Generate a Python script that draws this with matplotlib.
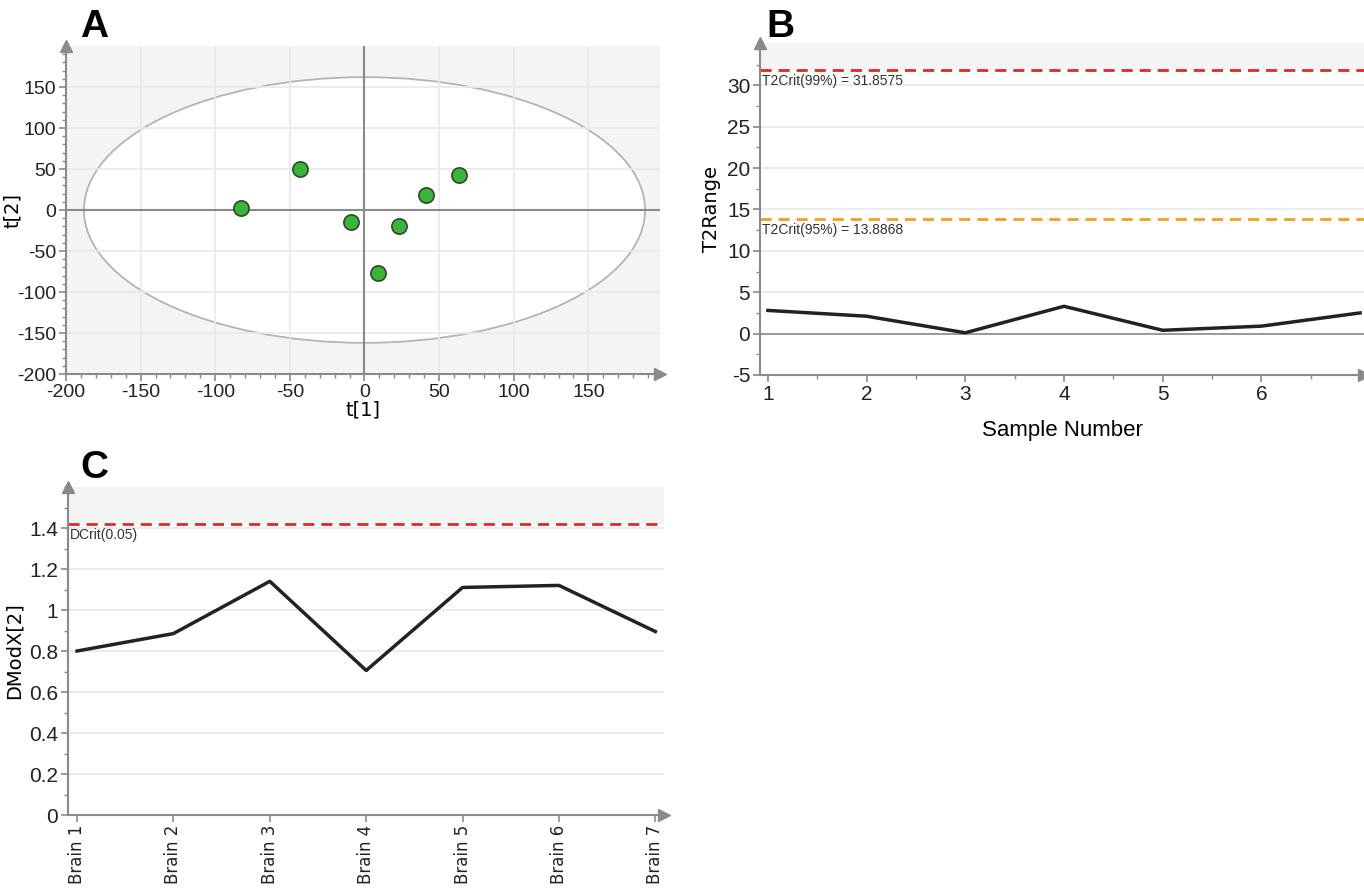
import matplotlib.pyplot as plt
import matplotlib.patches as patches
from matplotlib.ticker import MultipleLocator
import numpy as np

# A: score plot t[1] / t[2]
t1 = [-83, -43, -9, 9, 23, 41, 63]
t2 = [3, 50, -15, -77, -19, 18, 43]
ellipse_w, ellipse_h = 376, 324

# B: Hotelling T2 range
sample_no = [1, 2, 3, 4, 5, 6, 7]
t2range = [2.8, 2.1, 0.1, 3.3, 0.4, 0.9, 2.5]
t2crit99 = 31.8575
t2crit95 = 13.8868

# C: DModX
brains = ['Brain 1', 'Brain 2', 'Brain 3', 'Brain 4', 'Brain 5', 'Brain 6', 'Brain 7']
dmodx = [0.80, 0.885, 1.14, 0.705, 1.11, 1.12, 0.895]
dcrit = 1.42

plt.rcParams['font.family'] = ['Liberation Sans', 'DejaVu Sans']
plt.rcParams['axes.unicode_minus'] = False

W, H = 1364, 896
fig = plt.figure(figsize=(W / 100, H / 100), dpi=100)


def px(l, t, r, b):
    return [l / W, 1 - b / H, (r - l) / W, (b - t) / H]


AX = '#8a8a8a'
GRID = '#e9e9e9'
SHADE = '#f4f4f4'


def style(ax, size=15):
    for s in ['top', 'right']:
        ax.spines[s].set_visible(False)
    for s in ['left', 'bottom']:
        ax.spines[s].set_color(AX)
        ax.spines[s].set_linewidth(1.5)
    ax.tick_params(which='major', length=5, width=1.2, color=AX,
                   labelsize=size, labelcolor='#222222', pad=2)
    ax.tick_params(which='minor', length=3, width=1, color=AX)
    # arrow heads on the axes
    ax.plot(0, 1.0, marker='^', ms=8, color=AX, transform=ax.transAxes, clip_on=False, zorder=5)
    ax.plot(1.0, 0, marker='>', ms=8, color=AX, transform=ax.transAxes, clip_on=False, zorder=5)


# ---------------- A ----------------
axA = fig.add_axes(px(66, 46, 660, 374))
axA.set_facecolor(SHADE)
axA.set_xlim(-200, 198)
axA.set_ylim(-200, 200)
axA.set_xticks(np.arange(-200, 151, 50))
axA.set_yticks(np.arange(-200, 151, 50))
axA.xaxis.set_minor_locator(MultipleLocator(10))
axA.yaxis.set_minor_locator(MultipleLocator(10))
axA.grid(True, which='major', color=GRID, lw=1.2)
axA.set_axisbelow(True)
ell = patches.Ellipse((0, 0), ellipse_w, ellipse_h, facecolor='white',
                      edgecolor='#b4b4b4', lw=1.3, zorder=0.2)
axA.add_patch(ell)
axA.axhline(0, color='#8a8a8a', lw=1.5, zorder=1)
axA.axvline(0, color='#8a8a8a', lw=1.5, zorder=1)
axA.scatter(t1, t2, s=120, color='#3cb43c', edgecolor='#2a4a2a', lw=1.2, zorder=3)
style(axA, 14)
axA.set_xlabel('t[1]', family='DejaVu Sans', fontsize=14, labelpad=0)
axA.set_ylabel('t[2]', family='DejaVu Sans', fontsize=14)
axA.yaxis.set_label_coords(-44 / 594, 0.5)
fig.text(80 / W, 1 - 27 / H, 'A', fontsize=28, weight='bold', va='center')

# ---------------- B ----------------
axB = fig.add_axes(px(760, 43, 1364, 375))
axB.set_xlim(0.92, 7.04)
axB.set_ylim(-5, 35.1)
axB.set_xticks([1, 2, 3, 4, 5, 6])
axB.set_yticks(np.arange(-5, 31, 5))
axB.xaxis.set_minor_locator(MultipleLocator(0.5))
axB.yaxis.set_minor_locator(MultipleLocator(2.5))
axB.grid(True, axis='y', color=GRID, lw=1.2)
axB.set_axisbelow(True)
axB.axhspan(t2crit99, 40, color=SHADE, zorder=0.1, lw=0)
axB.axhline(0, color='#8a8a8a', lw=1.2, zorder=1)
axB.axhline(t2crit99, color='#e5262b', lw=2, ls=(0, (4, 2.5)), zorder=2)
axB.axhline(t2crit95, color='#f0a020', lw=2, ls=(0, (4, 2.5)), zorder=2)
axB.text(0.94, t2crit99 - 0.5, 'T2Crit(99%) = 31.8575', fontsize=10, color='#333333',
         va='top', ha='left')
axB.text(0.94, t2crit95 - 0.5, 'T2Crit(95%) = 13.8868', fontsize=10, color='#333333',
         va='top', ha='left')
axB.plot(sample_no, t2range, color='#222222', lw=2.5, zorder=3)
style(axB)
axB.set_xlabel('Sample Number', fontsize=16, labelpad=12)
axB.set_ylabel('T2Range', family='DejaVu Sans', fontsize=14, labelpad=4)
fig.text(766 / W, 1 - 27 / H, 'B', fontsize=28, weight='bold', va='center')

# ---------------- C ----------------
axC = fig.add_axes(px(68, 487, 664, 815))
axC.set_xlim(0.906, 7.09)
axC.set_ylim(0, 1.6)
axC.set_xticks(range(1, 8))
axC.set_yticks(np.arange(0, 1.41, 0.2))
axC.set_yticklabels(['0', '0.2', '0.4', '0.6', '0.8', '1', '1.2', '1.4'])
axC.yaxis.set_minor_locator(MultipleLocator(0.1))
axC.grid(True, axis='y', color=GRID, lw=1.2)
axC.set_axisbelow(True)
axC.axhspan(dcrit, 2, color=SHADE, zorder=0.1, lw=0)
axC.axhline(dcrit, color='#e5262b', lw=2, ls=(0, (4, 2.5)), zorder=2)
axC.text(0.93, dcrit - 0.02, 'DCrit(0.05)', fontsize=10, color='#333333', va='top', ha='left')
axC.plot(range(1, 8), dmodx, color='#222222', lw=2.5, zorder=3)
style(axC)
axC.set_xticklabels(brains, rotation=90, family='DejaVu Sans', fontsize=12)
axC.set_ylabel('DModX[2]', family='DejaVu Sans', fontsize=14, labelpad=4)
fig.text(80 / W, 1 - 468 / H, 'C', fontsize=28, weight='bold', va='center')

fig.savefig('out.png', dpi=100)
